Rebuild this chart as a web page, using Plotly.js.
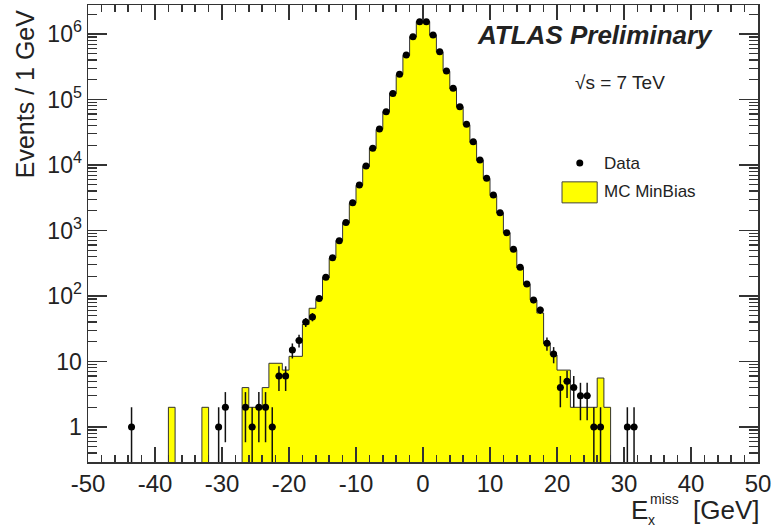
<!DOCTYPE html>
<html><head><meta charset="utf-8">
<script src="https://cdn.plot.ly/plotly-3.0.1.min.js"></script>
<style>html,body{margin:0;padding:0;background:#fff}#chart{width:774px;height:531px}</style>
</head><body><div id="chart"></div>
<script>
// Data: bin centres (GeV) and events per 1 GeV bin
const dataX = [-43.5,-30.5,-29.5,-26.5,-25.5,-24.5,-23.5,-22.5,-21.5,-20.5,-19.5,-18.5,-17.5,-16.5,-15.5,-14.5,-13.5,-12.5,-11.5,-10.5,-9.5,-8.5,-7.5,-6.5,-5.5,-4.5,-3.5,-2.5,-1.5,-0.5,0.5,1.5,2.5,3.5,4.5,5.5,6.5,7.5,8.5,9.5,10.5,11.5,12.5,13.5,14.5,15.5,16.5,17.5,18.5,19.5,20.5,21.5,22.5,23.5,24.5,25.5,26.5,30.5,31.5];
const dataY = [1,1,2,2,1,2,2,1,6,6,15,21,40,48,92,193,385,698,1320,2660,4950,9660,18000,35500,65000,124000,243000,478000,910000,1540000,1540000,966000,537000,272000,148000,77600,41800,22700,11900,6260,3480,1870,925,516,274,152,87,61,19,13,4,5,4,3,3,1,1,1,1];

// MC MinBias: bin centres and events per bin
const mcX = [-37.5,-32.5,-26.5,-25.5,-24.5,-23.5,-22.5,-21.5,-20.5,-19.5,-18.5,-17.5,-16.5,-15.5,-14.5,-13.5,-12.5,-11.5,-10.5,-9.5,-8.5,-7.5,-6.5,-5.5,-4.5,-3.5,-2.5,-1.5,-0.5,0.5,1.5,2.5,3.5,4.5,5.5,6.5,7.5,8.5,9.5,10.5,11.5,12.5,13.5,14.5,15.5,16.5,17.5,18.5,19.5,20.5,21.5,22.5,23.5,24.5,25.5,26.5,27.5];
const mcY = [2,2,4,2,2,4,9.4,9.4,7.4,12,12,37,65,90,190,380,700,1300,2600,4900,9500,18000,35000,65000,124000,240000,470000,900000,1550000,1550000,960000,530000,270000,146000,77000,41000,22000,11800,6200,3400,1850,920,510,270,150,87,55,19,12.6,7.4,7.4,2,2,2,2,5.6,2];

const xTickVals = [-50,-40,-30,-20,-10,0,10,20,30,40,50];
const xTickText = ['-50','-40','-30','-20','-10','0','10','20','30','40','50'];
const yTickVals = [1,10,100,1000,10000,100000,1000000];
const yTickText = ['1','10','10<sup>2</sup>','10<sup>3</sup>','10<sup>4</sup>','10<sup>5</sup>','10<sup>6</sup>'];

const binW = 1;
// step outline of the MC histogram built from the bins
function stepOutline(xc, yv, floor){
  const xs=[], ys=[];
  for(let i=0;i<xc.length;i++){
    const l=xc[i]-binW/2, r=xc[i]+binW/2;
    const prevAdj = i>0 && Math.abs(xc[i-1]+binW/2 - l)<1e-9;
    if(!prevAdj){ xs.push(l); ys.push(floor); }
    xs.push(l); ys.push(yv[i]);
    xs.push(r); ys.push(yv[i]);
    const nextAdj = i<xc.length-1 && Math.abs(xc[i+1]-binW/2 - r)<1e-9;
    if(!nextAdj){ xs.push(r); ys.push(floor); xs.push(null); ys.push(null); }
  }
  return {xs, ys};
}
const outline = stepOutline(mcX, mcY, 0.01);
const errUp = dataY.map(v=>Math.sqrt(v));
const errDn = dataY.map(v=>Math.min(Math.sqrt(v), v*0.9999));

const minorY = [];
for(let n=-1;n<=6;n++){ for(let k=2;k<=9;k++){ minorY.push(k*Math.pow(10,n)); } }

const FONT = '"Liberation Sans", Arial, Helvetica, sans-serif';
const INK = '#222';

const traces = [
  {type:'bar', x:mcX, y:mcY, width:binW, name:'MC MinBias',
   marker:{color:'#ffff00', line:{width:0}}, hoverinfo:'x+y', showlegend:false},
  {type:'scatter', mode:'lines', x:outline.xs, y:outline.ys, line:{color:'#333', width:1},
   hoverinfo:'skip', showlegend:false, connectgaps:false},
  {type:'scatter', mode:'markers', x:dataX, y:dataY, name:'Data',
   marker:{color:'#000', size:7},
   error_y:{type:'data', symmetric:false, array:errUp, arrayminus:errDn, width:0, thickness:1.5, color:'#111'},
   error_x:{type:'constant', value:binW/2, width:0, thickness:1.5, color:'#111'},
   showlegend:false}
];

const annots = [
  {text:'<b><i>ATLAS Preliminary</i></b>', xref:'paper', yref:'paper', x:0.757, y:0.934, xanchor:'center', yanchor:'middle', showarrow:false, font:{family:FONT, size:26, color:INK}},
  {text:'√s = 7 TeV', xref:'paper', yref:'paper', x:0.794, y:0.8315, xanchor:'center', yanchor:'middle', showarrow:false, font:{family:FONT, size:19, color:INK}},
  {text:'Data', xref:'paper', yref:'paper', x:0.767, y:0.654, xanchor:'left', yanchor:'middle', showarrow:false, font:{family:FONT, size:17, color:INK}},
  {text:'MC MinBias', xref:'paper', yref:'paper', x:0.767, y:0.591, xanchor:'left', yanchor:'middle', showarrow:false, font:{family:FONT, size:17, color:INK}},
  {text:'Events / 1 GeV', xref:'paper', yref:'paper', x:-0.094, y:0.993, xanchor:'center', yanchor:'top', textangle:-90, showarrow:false, font:{family:FONT, size:25, color:INK}},
  {text:'E', xref:'paper', yref:'paper', x:0.8090, y:-0.105, xanchor:'left', yanchor:'middle', showarrow:false, borderpad:0, font:{family:FONT, size:26, color:INK}},
  {text:'miss', xref:'paper', yref:'paper', x:0.8375, y:-0.0810, xanchor:'left', yanchor:'middle', showarrow:false, borderpad:0, font:{family:FONT, size:14, color:INK}},
  {text:'x', xref:'paper', yref:'paper', x:0.8340, y:-0.1265, xanchor:'left', yanchor:'middle', showarrow:false, borderpad:0, font:{family:FONT, size:14, color:INK}},
  {text:'[GeV]', xref:'paper', yref:'paper', x:1.003, y:-0.105, xanchor:'right', yanchor:'middle', showarrow:false, borderpad:0, font:{family:FONT, size:26, color:INK}}
];

const shapes = [
  {type:'circle', xref:'paper', yref:'paper', xsizemode:'pixel', ysizemode:'pixel', xanchor:0.734, yanchor:0.654, x0:-3.5, x1:3.5, y0:-3.5, y1:3.5, fillcolor:'#000', line:{width:0}},
  {type:'rect', xref:'paper', yref:'paper', x0:0.7075, x1:0.760, y0:0.567, y1:0.613, fillcolor:'#ffff00', line:{color:'#444', width:1}}
];

const layout = {
  width:774, height:531,
  margin:{l:88, r:16, t:5, b:69},
  paper_bgcolor:'#fff', plot_bgcolor:'#fff',
  font:{family:FONT, color:INK},
  showlegend:false,
  bargap:0,
  xaxis:{range:[-50,50], tickmode:'array', tickvals:xTickVals, ticktext:xTickText, ticks:'inside', ticklen:15, tickwidth:1.5, tickcolor:'#333',
    minor:{tickmode:'linear', tick0:-50, dtick:2, ticks:'inside', ticklen:7, tickwidth:1.5, tickcolor:'#333', showgrid:false},
    showline:true, linecolor:'#333', linewidth:1.5, mirror:'ticks', showgrid:false, zeroline:false,
    tickfont:{family:FONT, size:24, color:INK}},
  yaxis:{type:'log', range:[-0.534, 6.443], tickmode:'array', tickvals:yTickVals, ticktext:yTickText,
    ticks:'inside', ticklen:19, tickwidth:1.5, tickcolor:'#333',
    minor:{tickmode:'array', tickvals:minorY, ticks:'inside', ticklen:9, tickwidth:1.2, tickcolor:'#333', showgrid:false},
    showline:true, linecolor:'#333', linewidth:1.5, mirror:'ticks', showgrid:false, zeroline:false,
    tickfont:{family:FONT, size:23, color:INK}},
  annotations:annots,
  shapes:shapes
};
Plotly.newPlot('chart', traces, layout, {displayModeBar:false, staticPlot:true});
</script></body></html>
